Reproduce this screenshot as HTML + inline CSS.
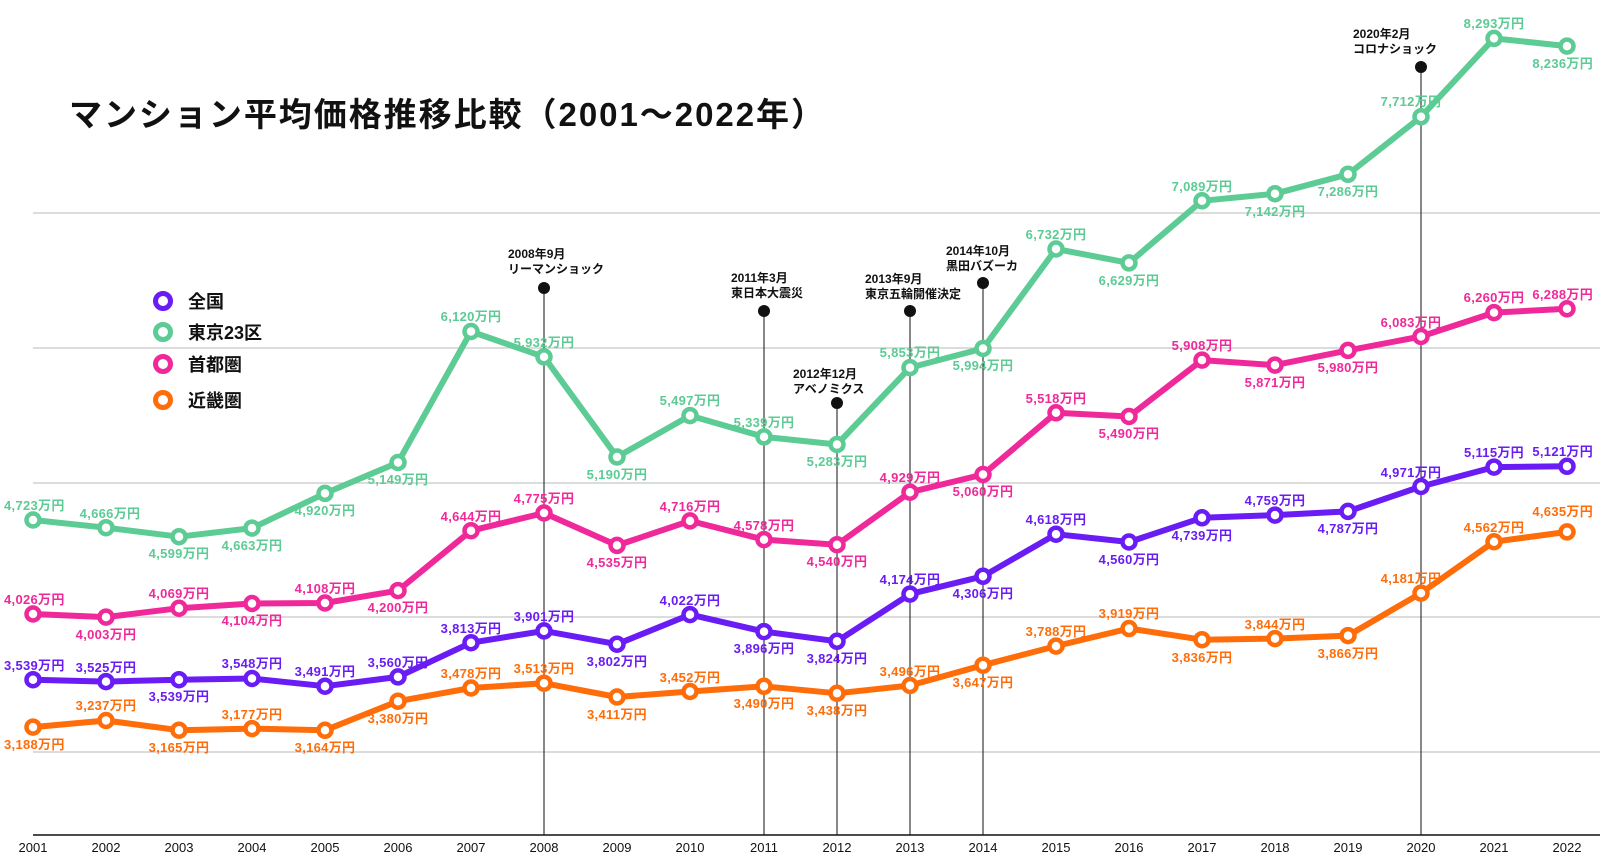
<!DOCTYPE html>
<html><head><meta charset="utf-8"><style>
html,body{margin:0;padding:0;background:#fff;}
svg{display:block;font-family:"Liberation Sans","Noto Sans CJK JP",sans-serif;}
.t text{font-size:13px;font-weight:bold;text-anchor:middle;letter-spacing:0.3px;}
.ev{font-size:12px;font-weight:bold;fill:#111;}
.yr{font-size:13px;text-anchor:middle;fill:#111;}
</style></head><body>
<svg width="1600" height="861" viewBox="0 0 1600 861" xmlns="http://www.w3.org/2000/svg">
<g stroke="#c8c8c8" stroke-width="1.2">
<line x1="33" y1="213" x2="1600" y2="213"/><line x1="33" y1="348" x2="1600" y2="348"/><line x1="33" y1="483" x2="1600" y2="483"/><line x1="33" y1="617" x2="1600" y2="617"/><line x1="33" y1="752" x2="1600" y2="752"/>
</g>
<line x1="33" y1="835" x2="1600" y2="835" stroke="#111" stroke-width="1.5"/>
<g class="yr">
<text x="33" y="852">2001</text><text x="106" y="852">2002</text><text x="179" y="852">2003</text><text x="252" y="852">2004</text><text x="325" y="852">2005</text><text x="398" y="852">2006</text><text x="471" y="852">2007</text><text x="544" y="852">2008</text><text x="617" y="852">2009</text><text x="690" y="852">2010</text><text x="764" y="852">2011</text><text x="837" y="852">2012</text><text x="910" y="852">2013</text><text x="983" y="852">2014</text><text x="1056" y="852">2015</text><text x="1129" y="852">2016</text><text x="1202" y="852">2017</text><text x="1275" y="852">2018</text><text x="1348" y="852">2019</text><text x="1421" y="852">2020</text><text x="1494" y="852">2021</text><text x="1567" y="852">2022</text>
</g>
<text x="69" y="126" font-size="33" font-weight="bold" fill="#111" textLength="755">マンション平均価格推移比較（2001〜2022年）</text>
<g stroke="#111" stroke-width="1">
<line x1="544" y1="288" x2="544" y2="835"/><line x1="764" y1="311" x2="764" y2="835"/><line x1="837" y1="403" x2="837" y2="835"/><line x1="910" y1="311" x2="910" y2="835"/><line x1="983" y1="283" x2="983" y2="835"/><line x1="1421" y1="67" x2="1421" y2="835"/>
</g>
<g fill="#111"><circle cx="544" cy="288" r="6"/><circle cx="764" cy="311" r="6"/><circle cx="837" cy="403" r="6"/><circle cx="910" cy="311" r="6"/><circle cx="983" cy="283" r="6"/><circle cx="1421" cy="67" r="6"/></g>
<g class="ev">
<text x="508" y="258">2008年9月</text><text x="508" y="273">リーマンショック</text>
<text x="731" y="282">2011年3月</text><text x="731" y="297">東日本大震災</text>
<text x="793" y="378">2012年12月</text><text x="793" y="393">アベノミクス</text>
<text x="865" y="283">2013年9月</text><text x="865" y="298">東京五輪開催決定</text>
<text x="946" y="255">2014年10月</text><text x="946" y="270">黒田バズーカ</text>
<text x="1353" y="38">2020年2月</text><text x="1353" y="53">コロナショック</text>
</g>
<g fill="none" stroke-width="6" stroke-linejoin="round">
<polyline stroke="#5ccb94" points="33,520 106,527.7 179,536.7 252,528.1 325,493.4 398,462.5 471,331.5 544,356.9 617,457 690,415.6 764,436.9 837,444.5 910,367.6 983,348.5 1056,249 1129,262.9 1202,200.8 1275,193.7 1348,174.3 1421,116.8 1494,38.4 1567,46.1"/>
<polyline stroke="#f0299a" points="33,614 106,617.1 179,608.2 252,603.5 325,603 398,590.6 471,530.7 544,513 617,545.4 690,520.9 764,539.6 837,544.7 910,492.2 983,474.5 1056,412.8 1129,416.5 1202,360.1 1275,365.1 1348,350.4 1421,336.5 1494,312.6 1567,308.8"/>
<polyline stroke="#6a1cf5" points="33,679.7 106,681.6 179,679.7 252,678.5 325,686.2 398,676.9 471,642.7 544,630.9 617,644.2 690,614.6 764,631.6 837,641.3 910,594.1 983,576.3 1056,534.2 1129,542 1202,517.8 1275,515.1 1348,511.4 1421,486.5 1494,467.1 1567,466.3"/>
<polyline stroke="#ff6d0a" points="33,727.1 106,720.5 179,730.2 252,728.6 325,730.3 398,701.2 471,688 544,683.2 617,697 690,691.5 764,686.3 837,693.3 910,685.5 983,665.2 1056,646.1 1129,628.5 1202,639.7 1275,638.6 1348,635.6 1421,593.1 1494,541.7 1567,531.9"/>
</g>
<g fill="#fff" stroke-width="4.5">
<g stroke="#5ccb94"><circle cx="33" cy="520" r="6.5"/><circle cx="106" cy="527.7" r="6.5"/><circle cx="179" cy="536.7" r="6.5"/><circle cx="252" cy="528.1" r="6.5"/><circle cx="325" cy="493.4" r="6.5"/><circle cx="398" cy="462.5" r="6.5"/><circle cx="471" cy="331.5" r="6.5"/><circle cx="544" cy="356.9" r="6.5"/><circle cx="617" cy="457" r="6.5"/><circle cx="690" cy="415.6" r="6.5"/><circle cx="764" cy="436.9" r="6.5"/><circle cx="837" cy="444.5" r="6.5"/><circle cx="910" cy="367.6" r="6.5"/><circle cx="983" cy="348.5" r="6.5"/><circle cx="1056" cy="249" r="6.5"/><circle cx="1129" cy="262.9" r="6.5"/><circle cx="1202" cy="200.8" r="6.5"/><circle cx="1275" cy="193.7" r="6.5"/><circle cx="1348" cy="174.3" r="6.5"/><circle cx="1421" cy="116.8" r="6.5"/><circle cx="1494" cy="38.4" r="6.5"/><circle cx="1567" cy="46.1" r="6.5"/></g>
<g stroke="#f0299a"><circle cx="33" cy="614" r="6.5"/><circle cx="106" cy="617.1" r="6.5"/><circle cx="179" cy="608.2" r="6.5"/><circle cx="252" cy="603.5" r="6.5"/><circle cx="325" cy="603" r="6.5"/><circle cx="398" cy="590.6" r="6.5"/><circle cx="471" cy="530.7" r="6.5"/><circle cx="544" cy="513" r="6.5"/><circle cx="617" cy="545.4" r="6.5"/><circle cx="690" cy="520.9" r="6.5"/><circle cx="764" cy="539.6" r="6.5"/><circle cx="837" cy="544.7" r="6.5"/><circle cx="910" cy="492.2" r="6.5"/><circle cx="983" cy="474.5" r="6.5"/><circle cx="1056" cy="412.8" r="6.5"/><circle cx="1129" cy="416.5" r="6.5"/><circle cx="1202" cy="360.1" r="6.5"/><circle cx="1275" cy="365.1" r="6.5"/><circle cx="1348" cy="350.4" r="6.5"/><circle cx="1421" cy="336.5" r="6.5"/><circle cx="1494" cy="312.6" r="6.5"/><circle cx="1567" cy="308.8" r="6.5"/></g>
<g stroke="#6a1cf5"><circle cx="33" cy="679.7" r="6.5"/><circle cx="106" cy="681.6" r="6.5"/><circle cx="179" cy="679.7" r="6.5"/><circle cx="252" cy="678.5" r="6.5"/><circle cx="325" cy="686.2" r="6.5"/><circle cx="398" cy="676.9" r="6.5"/><circle cx="471" cy="642.7" r="6.5"/><circle cx="544" cy="630.9" r="6.5"/><circle cx="617" cy="644.2" r="6.5"/><circle cx="690" cy="614.6" r="6.5"/><circle cx="764" cy="631.6" r="6.5"/><circle cx="837" cy="641.3" r="6.5"/><circle cx="910" cy="594.1" r="6.5"/><circle cx="983" cy="576.3" r="6.5"/><circle cx="1056" cy="534.2" r="6.5"/><circle cx="1129" cy="542" r="6.5"/><circle cx="1202" cy="517.8" r="6.5"/><circle cx="1275" cy="515.1" r="6.5"/><circle cx="1348" cy="511.4" r="6.5"/><circle cx="1421" cy="486.5" r="6.5"/><circle cx="1494" cy="467.1" r="6.5"/><circle cx="1567" cy="466.3" r="6.5"/></g>
<g stroke="#ff6d0a"><circle cx="33" cy="727.1" r="6.5"/><circle cx="106" cy="720.5" r="6.5"/><circle cx="179" cy="730.2" r="6.5"/><circle cx="252" cy="728.6" r="6.5"/><circle cx="325" cy="730.3" r="6.5"/><circle cx="398" cy="701.2" r="6.5"/><circle cx="471" cy="688" r="6.5"/><circle cx="544" cy="683.2" r="6.5"/><circle cx="617" cy="697" r="6.5"/><circle cx="690" cy="691.5" r="6.5"/><circle cx="764" cy="686.3" r="6.5"/><circle cx="837" cy="693.3" r="6.5"/><circle cx="910" cy="685.5" r="6.5"/><circle cx="983" cy="665.2" r="6.5"/><circle cx="1056" cy="646.1" r="6.5"/><circle cx="1129" cy="628.5" r="6.5"/><circle cx="1202" cy="639.7" r="6.5"/><circle cx="1275" cy="638.6" r="6.5"/><circle cx="1348" cy="635.6" r="6.5"/><circle cx="1421" cy="593.1" r="6.5"/><circle cx="1494" cy="541.7" r="6.5"/><circle cx="1567" cy="531.9" r="6.5"/></g>
</g>
<g class="t">
<g fill="#5ccb94">
<text x="4" y="510" style="text-anchor:start">4,723万円</text><text x="110" y="518">4,666万円</text><text x="179" y="558">4,599万円</text><text x="252" y="550">4,663万円</text><text x="325" y="515">4,920万円</text><text x="398" y="484">5,149万円</text><text x="471" y="321">6,120万円</text><text x="544" y="347">5,932万円</text><text x="617" y="479">5,190万円</text><text x="690" y="405">5,497万円</text><text x="764" y="427">5,339万円</text><text x="837" y="466">5,283万円</text><text x="910" y="357">5,853万円</text><text x="983" y="370">5,994万円</text><text x="1056" y="239">6,732万円</text><text x="1129" y="285">6,629万円</text><text x="1202" y="191">7,089万円</text><text x="1275" y="216">7,142万円</text><text x="1348" y="196">7,286万円</text><text x="1411" y="106">7,712万円</text><text x="1494" y="28">8,293万円</text><text x="1593" y="68" style="text-anchor:end">8,236万円</text>
</g>
<g fill="#f0299a">
<text x="4" y="604" style="text-anchor:start">4,026万円</text><text x="106" y="639">4,003万円</text><text x="179" y="598">4,069万円</text><text x="252" y="625">4,104万円</text><text x="325" y="593">4,108万円</text><text x="398" y="612">4,200万円</text><text x="471" y="521">4,644万円</text><text x="544" y="503">4,775万円</text><text x="617" y="567">4,535万円</text><text x="690" y="511">4,716万円</text><text x="764" y="530">4,578万円</text><text x="837" y="566">4,540万円</text><text x="910" y="482">4,929万円</text><text x="983" y="496">5,060万円</text><text x="1056" y="403">5,518万円</text><text x="1129" y="438">5,490万円</text><text x="1202" y="350">5,908万円</text><text x="1275" y="387">5,871万円</text><text x="1348" y="372">5,980万円</text><text x="1411" y="327">6,083万円</text><text x="1494" y="302">6,260万円</text><text x="1593" y="299" style="text-anchor:end">6,288万円</text>
</g>
<g fill="#6a1cf5">
<text x="4" y="670" style="text-anchor:start">3,539万円</text><text x="106" y="672">3,525万円</text><text x="179" y="701">3,539万円</text><text x="252" y="668">3,548万円</text><text x="325" y="676">3,491万円</text><text x="398" y="667">3,560万円</text><text x="471" y="633">3,813万円</text><text x="544" y="621">3,901万円</text><text x="617" y="666">3,802万円</text><text x="690" y="605">4,022万円</text><text x="764" y="653">3,896万円</text><text x="837" y="663">3,824万円</text><text x="910" y="584">4,174万円</text><text x="983" y="598">4,306万円</text><text x="1056" y="524">4,618万円</text><text x="1129" y="564">4,560万円</text><text x="1202" y="540">4,739万円</text><text x="1275" y="505">4,759万円</text><text x="1348" y="533">4,787万円</text><text x="1411" y="477">4,971万円</text><text x="1494" y="457">5,115万円</text><text x="1593" y="456" style="text-anchor:end">5,121万円</text>
</g>
<g fill="#ff6d0a">
<text x="4" y="749" style="text-anchor:start">3,188万円</text><text x="106" y="710">3,237万円</text><text x="179" y="752">3,165万円</text><text x="252" y="719">3,177万円</text><text x="325" y="752">3,164万円</text><text x="398" y="723">3,380万円</text><text x="471" y="678">3,478万円</text><text x="544" y="673">3,513万円</text><text x="617" y="719">3,411万円</text><text x="690" y="682">3,452万円</text><text x="764" y="708">3,490万円</text><text x="837" y="715">3,438万円</text><text x="910" y="676">3,496万円</text><text x="983" y="687">3,647万円</text><text x="1056" y="636">3,788万円</text><text x="1129" y="618">3,919万円</text><text x="1202" y="662">3,836万円</text><text x="1275" y="629">3,844万円</text><text x="1348" y="658">3,866万円</text><text x="1411" y="583">4,181万円</text><text x="1494" y="532">4,562万円</text><text x="1593" y="516" style="text-anchor:end">4,635万円</text>
</g>
</g>
<g fill="#fff" stroke-width="5">
<circle cx="163" cy="301" r="7.5" stroke="#6a1cf5"/><circle cx="163" cy="332" r="7.5" stroke="#5ccb94"/><circle cx="163" cy="364" r="7.5" stroke="#f0299a"/><circle cx="163" cy="400" r="7.5" stroke="#ff6d0a"/>
</g>
<g font-size="18" font-weight="bold" fill="#111">
<text x="188" y="308">全国</text><text x="188" y="339">東京23区</text><text x="188" y="371">首都圏</text><text x="188" y="407">近畿圏</text>
</g>
</svg>
</body></html>
